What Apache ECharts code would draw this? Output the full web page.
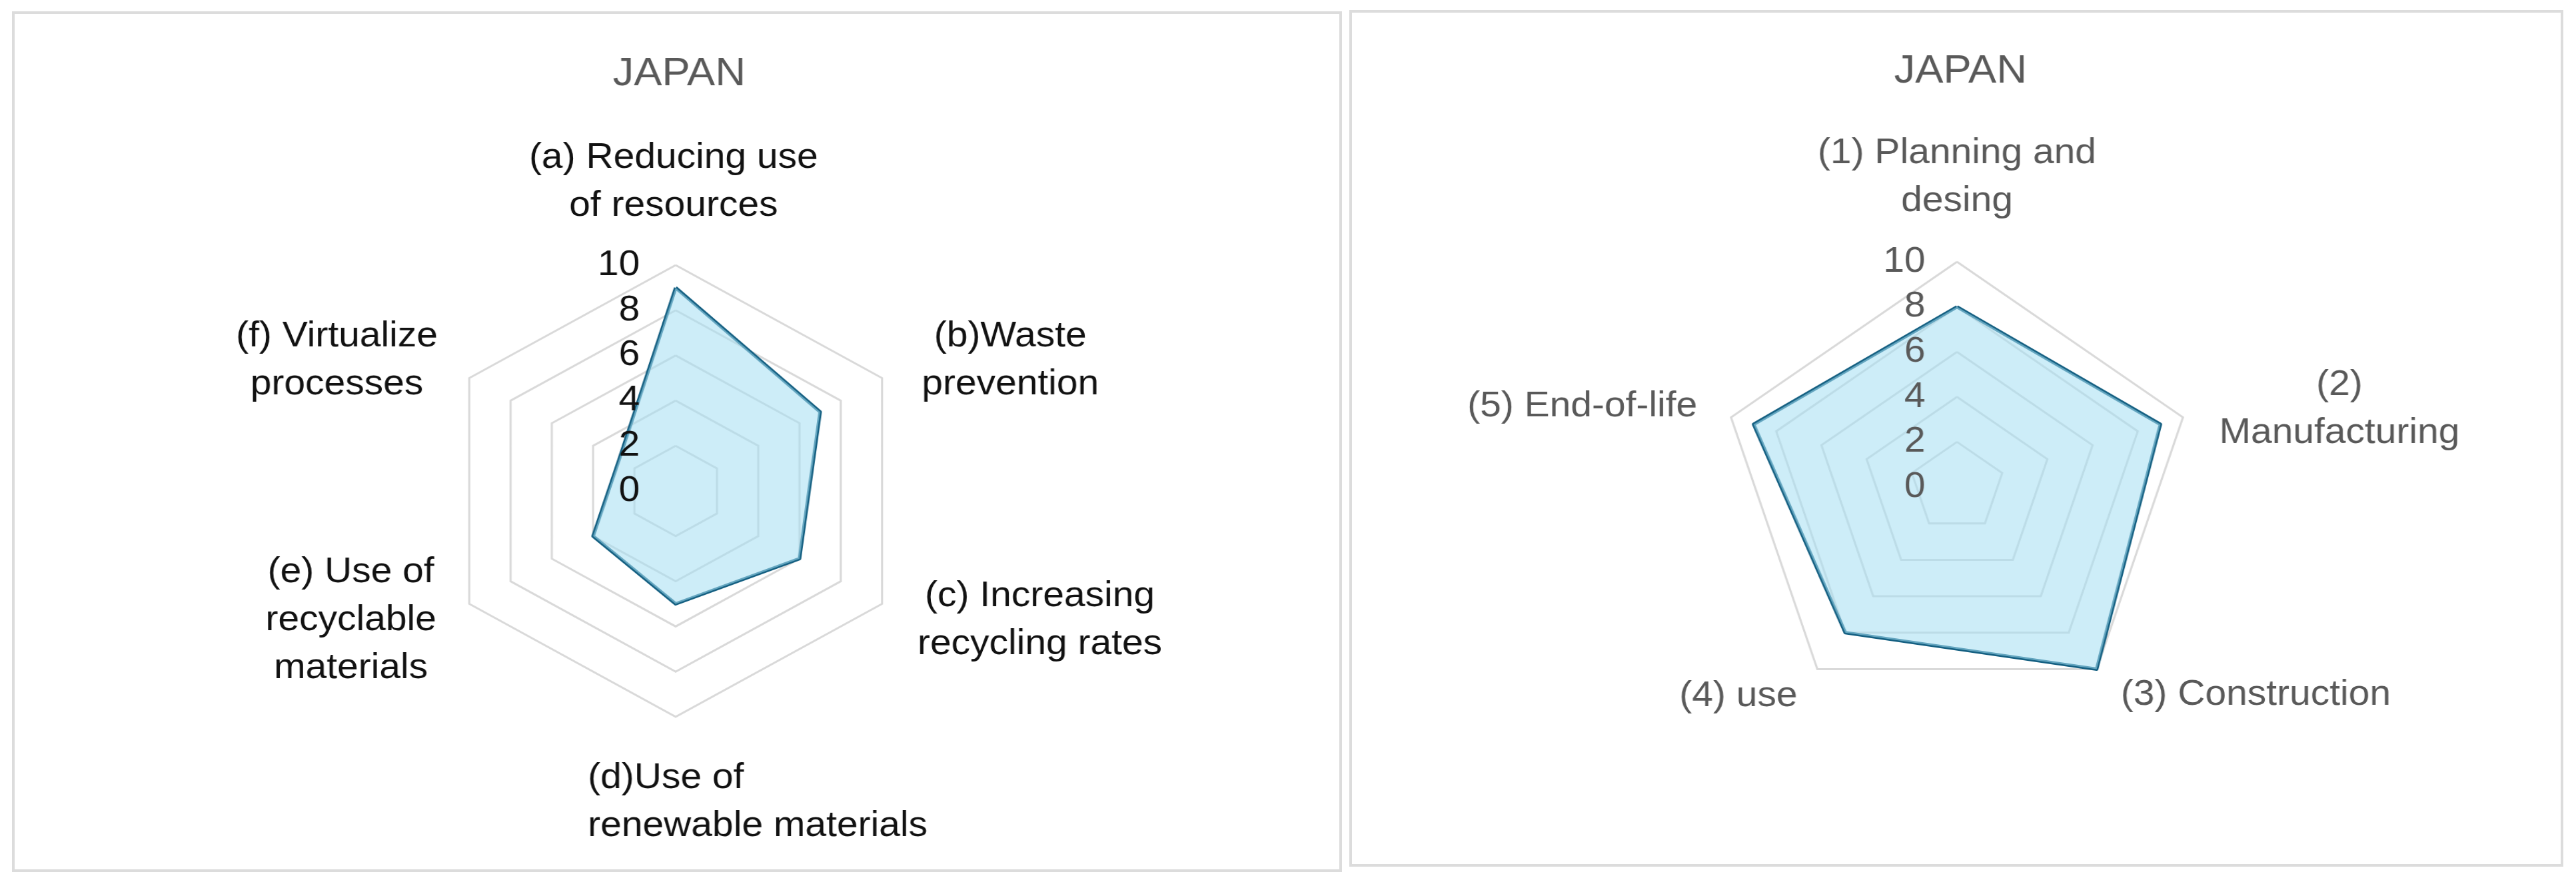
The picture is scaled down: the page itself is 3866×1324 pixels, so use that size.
<!DOCTYPE html>
<html>
<head>
<meta charset="utf-8">
<script src="https://cdn.jsdelivr.net/npm/echarts@6/dist/echarts.min.js"></script>
<style>
  html, body { margin: 0; padding: 0; background: #fff; }
  body { width: 3866px; height: 1324px; position: relative; overflow: hidden; }
  .frame { position: absolute; box-sizing: border-box; border: 4px solid #dcdcdc; }
  .chart { position: absolute; }
</style>
</head>
<body>
<div class="frame" style="left:18px;top:17px;width:1996px;height:1292px;"></div>
<div class="frame" style="left:2025px;top:15px;width:1822px;height:1286px;"></div>
<div id="chartLeft" class="chart" style="left:20px;top:19px;width:1992px;height:1288px;"></div>
<div id="chartRight" class="chart" style="left:2027px;top:17px;width:1818px;height:1282px;"></div>
<script>
// data
const ticks = [0, 2, 4, 6, 8, 10];

const leftTitle = 'JAPAN';
const leftCategories = [
  '(a) Reducing use\nof resources',
  '(b)Waste\nprevention',
  '(c) Increasing\nrecycling rates',
  '(d)Use of\nrenewable materials',
  '(e) Use of\nrecyclable\nmaterials',
  '(f) Virtualize\nprocesses'
];
const leftValues = [9, 7, 6, 5, 4, 2.75];

const rightTitle = 'JAPAN';
const rightCategories = [
  '(1) Planning and\ndesing',
  '(2)\nManufacturing',
  '(3) Construction',
  '(4) use',
  '(5) End-of-life'
];
const rightValues = [8, 9, 10, 8, 9];

// layout (chart local px, before the x stretch)
const STRETCH = 1.055;
const FONT = '"Liberation Sans", Arial, sans-serif';
const GRAY = '#595959';

const leftLayout = {
  center: [994, 718], radius: 339, titleY: 91, tickMargin: 51,
  textColor: '#111', tickColor: '#111',
  names: [[991, 254, 'center'], [1470, 522, 'center'], [1512, 912, 'center'],
          [869, 1185, 'left'], [532, 912, 'center'], [512, 522, 'center']]
};
const rightLayout = {
  center: [910, 714], radius: 338, titleY: 89, tickMargin: 45,
  textColor: GRAY, tickColor: GRAY,
  names: [[910, 249, 'center'], [1454, 597, 'center'], [1335, 1026, 'center'],
          [599, 1028, 'center'], [377, 593, 'center']]
};

// echarts radar runs counter-clockwise, excel runs clockwise
function toCcw(list) {
  return [list[0], ...list.slice(1).reverse()];
}

function buildOption(title, categories, values, lay) {
  const [cx, cy] = lay.center;
  const R = lay.radius;
  const min = ticks[0];
  const max = ticks[ticks.length - 1];

  return {
    animation: false,
    title: {
      text: title,
      left: cx,
      top: lay.titleY - 34,
      textAlign: 'center',
      textStyle: { fontFamily: FONT, fontSize: 60, fontWeight: 'normal', color: GRAY }
    },
    radar: {
      center: [cx, cy],
      radius: R,
      startAngle: 90,
      shape: 'polygon',
      splitNumber: ticks.length - 1,
      indicator: toCcw(categories).map(name => ({ name, min, max })),
      axisName: { show: false },
      axisLine: { show: false },
      axisTick: { show: false },
      axisLabel: { show: false },
      splitArea: { show: false },
      splitLine: { lineStyle: { color: '#d9d9d9', width: 3 } }
    },
    // vertical value scale for the tick labels, laid over the top spoke
    grid: { left: cx, top: cy - R, width: 1, height: R },
    xAxis: { type: 'value', show: false },
    yAxis: {
      type: 'value',
      z: 10,
      min: min,
      max: max,
      interval: ticks[1] - ticks[0],
      axisLine: { show: false },
      axisTick: { show: false },
      splitLine: { show: false },
      axisLabel: { margin: lay.tickMargin, fontSize: 54, fontFamily: FONT, color: lay.tickColor }
    },
    graphic: categories.map((name, i) => ({
      type: 'text',
      x: lay.names[i][0],
      y: lay.names[i][1],
      style: {
        text: name,
        textAlign: lay.names[i][2],
        textVerticalAlign: 'middle',
        font: '54px ' + FONT,
        lineHeight: 72,
        fill: lay.textColor
      }
    })),
    series: [{
      type: 'radar',
      symbol: 'none',
      lineStyle: { color: '#156082', width: 5 },
      areaStyle: { color: 'rgb(164, 222, 242)', opacity: 0.55 },
      data: [{ value: toCcw(values), name: title }]
    }]
  };
}

function init(id, option, cx) {
  const el = document.getElementById(id);
  el.style.transformOrigin = cx + 'px 0';
  el.style.transform = 'scaleX(' + STRETCH + ')';
  const chart = echarts.init(el);
  chart.setOption(option);
  return chart;
}

init('chartLeft', buildOption(leftTitle, leftCategories, leftValues, leftLayout), leftLayout.center[0]);
init('chartRight', buildOption(rightTitle, rightCategories, rightValues, rightLayout), rightLayout.center[0]);
</script>
</body>
</html>
